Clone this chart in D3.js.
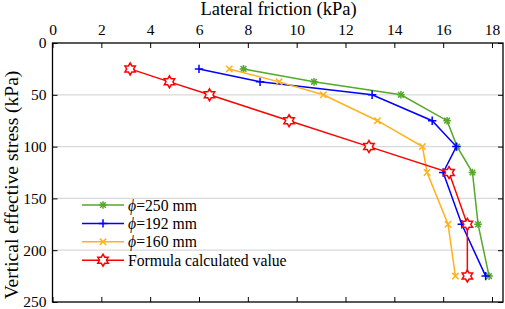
<!DOCTYPE html>
<html>
<head>
<meta charset="utf-8">
<script src="https://cdn.jsdelivr.net/npm/d3@7"></script>
<style>
  body { margin: 0; background: #fff; }
  svg { display: block; }
  svg text { font-family: "Liberation Serif", "Times New Roman", serif; fill: #000; }
</style>
</head>
<body>
<div id="chart"></div>
<script>
// vertical effective stress (kPa) for each measuring level
const stress = [25, 37.5, 50, 75, 100, 125, 175, 225];
// lateral friction (kPa)
const phi250 = [7.82, 10.71, 14.27, 16.16, 16.57, 17.2, 17.43, 17.88];
const phi192 = [6.0, 8.5, 13.09, 15.55, 16.54, 16.0, 16.76, 17.74];
const phi160 = [7.24, 9.28, 11.09, 13.31, 15.15, 15.34, 16.2, 16.5];
const formula = [3.18, 4.79, 6.43, 9.69, 12.96, 16.24, 16.99, 16.99];
const xTicks = [0, 2, 4, 6, 8, 10, 12, 14, 16, 18];
const yTicks = [0, 50, 100, 150, 200, 250];
const gridTicks = [50, 100, 150, 200];

const series = [
  { name: 'φ=250 mm', phi: '250', values: phi250, color: '#55a82a', marker: 'asterisk' },
  { name: 'φ=192 mm', phi: '192', values: phi192, color: '#0000ff', marker: 'plus' },
  { name: 'φ=160 mm', phi: '160', values: phi160, color: '#ffb21a', marker: 'cross' },
  { name: 'Formula calculated value', values: formula, color: '#ff0000', marker: 'hexagram' }
];

const serif = '"Liberation Serif", "Times New Roman", serif';
const W = 505, H = 309;
const margin = { top: 43, right: 2, bottom: 7, left: 52.5 };
const width = W - margin.left - margin.right,
  height = H - margin.top - margin.bottom;

const svg = d3.select('#chart').append('svg')
  .attr('width', W).attr('height', H);
const g = svg.append('g')
  .attr('transform', `translate(${margin.left},${margin.top})`);

const x = d3.scaleLinear().domain([0, 18.45]).range([0, width]);
const y = d3.scaleLinear().domain([0, 250]).range([0, height]);

// grid
g.selectAll('.grid').data(gridTicks).enter().append('line')
  .attr('x1', 0).attr('x2', width)
  .attr('y1', d => y(d)).attr('y2', d => y(d))
  .attr('stroke', '#d9d9d9').attr('stroke-width', 1.2);

// axes, ticks inward
const styleAxis = sel => {
  sel.attr('font-family', serif).attr('font-size', null);
  sel.select('.domain').remove();
  sel.selectAll('line').attr('stroke', '#000');
  sel.selectAll('text').attr('font-size', '15.5px').attr('fill', '#000')
    .attr('font-family', serif);
};
g.append('g')
  .call(d3.axisTop(x).tickValues(xTicks).tickSizeInner(-5).tickSizeOuter(0).tickPadding(8))
  .call(styleAxis);
g.append('g').attr('transform', `translate(0,${height})`)
  .call(d3.axisBottom(x).tickValues(xTicks).tickSizeInner(-5).tickSizeOuter(0).tickFormat(''))
  .call(styleAxis);
g.append('g')
  .call(d3.axisLeft(y).tickValues(yTicks).tickSizeInner(-5).tickSizeOuter(0).tickPadding(6))
  .call(styleAxis);
g.append('g').attr('transform', `translate(${width},0)`)
  .call(d3.axisRight(y).tickValues(yTicks).tickSizeInner(-5).tickSizeOuter(0).tickFormat(''))
  .call(styleAxis);

g.append('rect')
  .attr('width', width).attr('height', height)
  .attr('fill', 'none').attr('stroke', '#000').attr('stroke-width', 1.3);

// titles
svg.append('text')
  .attr('x', 278.5).attr('y', 15)
  .attr('font-family', serif)
  .attr('text-anchor', 'middle').attr('font-size', '18.5px')
  .text('Lateral friction (kPa)');
svg.append('text')
  .attr('transform', 'translate(18,185) rotate(-90)')
  .attr('font-family', serif)
  .attr('text-anchor', 'middle').attr('font-size', '19.5px')
  .text('Vertical effective stress (kPa)');

// markers
function drawMarker(sel, type, color) {
  if (type === 'plus' || type === 'asterisk') {
    const r = type === 'plus' ? 4.2 : 3.8;
    sel.append('path').attr('d', `M${-r},0H${r}M0,${-r}V${r}`);
  }
  if (type === 'cross' || type === 'asterisk') {
    const c = type === 'asterisk' ? 2.8 : 3.2;
    sel.append('path').attr('d', `M${-c},${-c}L${c},${c}M${-c},${c}L${c},${-c}`);
  }
  if (type === 'hexagram') {
    const R = 6, ri = R / Math.sqrt(3);
    const pts = d3.range(12).map(i => {
      const a = -Math.PI / 2 + i * Math.PI / 6;
      const rr = i % 2 === 0 ? R : ri;
      return [rr * Math.cos(a), rr * Math.sin(a)];
    });
    sel.append('path').attr('d', 'M' + pts.join('L') + 'Z').attr('fill', '#fff');
  }
  sel.selectAll('path').attr('stroke', color).attr('stroke-width', 1.5);
  sel.selectAll('path:not([fill])').attr('fill', 'none');
}

const line = d3.line().x(d => x(d[0])).y(d => y(d[1]));

series.forEach(s => {
  const pts = s.values.map((v, i) => [v, stress[i]]);
  g.append('path').datum(pts)
    .attr('d', line)
    .attr('fill', 'none').attr('stroke', s.color).attr('stroke-width', 1.5);
  g.selectAll(null).data(pts).enter().append('g')
    .attr('transform', d => `translate(${x(d[0])},${y(d[1])})`)
    .each(function () { drawMarker(d3.select(this), s.marker, s.color); });
});

// legend
const legend = svg.append('g').attr('transform', 'translate(82,205)');
series.forEach((s, i) => {
  const row = legend.append('g').attr('transform', `translate(0,${i * 18.4})`);
  row.append('line').attr('x1', 0).attr('x2', 42)
    .attr('stroke', s.color).attr('stroke-width', 1.5);
  drawMarker(row.append('g').attr('transform', 'translate(21,0)'), s.marker, s.color);
  const t = row.append('text').attr('x', 46).attr('y', 5.5)
    .attr('font-family', serif).attr('font-size', '15.7px');
  if (s.phi) {
    t.append('tspan').attr('font-style', 'italic').text('ϕ');
    t.append('tspan').text(`=${s.phi} mm`);
  } else {
    t.text(s.name);
  }
});
</script>
</body>
</html>
